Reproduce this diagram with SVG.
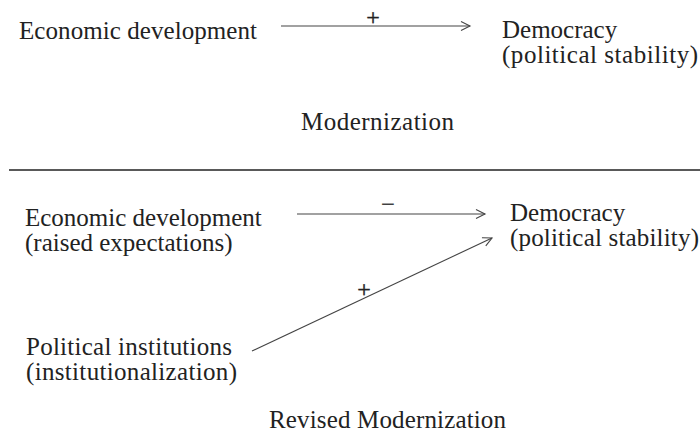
<svg xmlns="http://www.w3.org/2000/svg" width="700" height="433" viewBox="0 0 700 433">
<style>
text{font-family:"Liberation Serif","DejaVu Serif",serif;fill:#222;}
.t{font-size:25px;}
.s{font-size:24px;stroke:#222;stroke-width:0.4;}
.c{stroke:#444;stroke-width:1.1;fill:none;}
</style>
<defs>
<marker id="ah" markerWidth="12" markerHeight="12" refX="10" refY="5" orient="auto" markerUnits="userSpaceOnUse">
<path d="M1,0.5 L10,5 L1,9.5" fill="none" stroke="#444" stroke-width="1.1"/>
</marker>
</defs>
<rect width="700" height="433" fill="#fff"/>
<g id="econ1"><text class="t" x="19" y="39" textLength="238">Economic development</text></g>
<g id="dem1"><text class="t" x="502" y="38">Democracy</text><text class="t" x="502" y="63" textLength="196">(political stability)</text></g>
<g id="title1"><text class="t" x="301" y="130" textLength="153">Modernization</text></g>
<g id="divider"><line x1="9" y1="170" x2="700" y2="170" stroke="#222" stroke-width="1.3"/></g>
<g id="econ2"><text class="t" x="25" y="226">Economic development</text><text class="t" x="25" y="251">(raised expectations)</text></g>
<g id="dem2"><text class="t" x="510" y="221">Democracy</text><text class="t" x="510" y="246" textLength="189">(political stability)</text></g>
<g id="polinst"><text class="t" x="26" y="355" textLength="206">Political institutions</text><text class="t" x="26" y="380" textLength="211">(institutionalization)</text></g>
<g id="title2"><text class="t" x="269" y="428" textLength="237">Revised Modernization</text></g>
<g id="connectors">
<line class="c" x1="281" y1="26" x2="470" y2="26" marker-end="url(#ah)"/>
<text class="s" x="373" y="25" text-anchor="middle">+</text>
<line class="c" x1="297" y1="214" x2="485" y2="214" marker-end="url(#ah)"/>
<text class="s" x="388" y="212" text-anchor="middle">−</text>
<line class="c" x1="252" y1="351" x2="492" y2="238" marker-end="url(#ah)"/>
<text class="s" x="364" y="297" text-anchor="middle">+</text>
</g>
</svg>
